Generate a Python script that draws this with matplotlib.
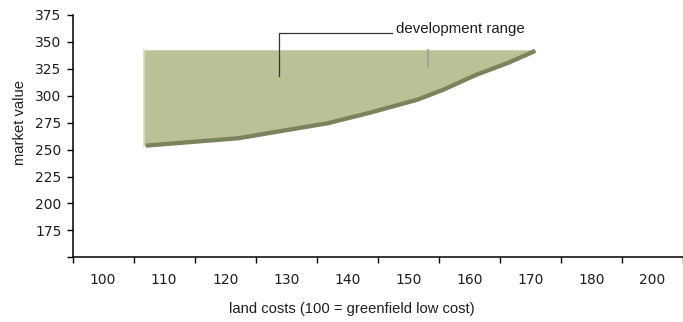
import matplotlib.pyplot as plt

plt.rcParams['font.family'] = ['Liberation Sans', 'DejaVu Sans']

# categories on the x axis (label text only, evenly spaced)
cost_labels = ["100", "110", "120", "130", "140", "150", "160", "170", "180", "200"]
value_ticks = [150, 175, 200, 225, 250, 275, 300, 325, 350, 375]

# lower edge of the development range, x in category units
land_pos = [0.70, 2.22, 3.68, 4.38, 5.14, 5.57, 6.11, 6.65, 7.08]
market_value = [253.7, 260.6, 274.5, 284.4, 296.2, 305.5, 319.4, 330.9, 341.7]
range_top = 342.7
range_left = 0.67

# small grey mark inside the area
mark_pos = 5.32
mark_bottom = 327.0

fill_col = "#BBC196"
line_col = "#7A845C"
txt_col = "#1e1e1e"
tick_font = ['DejaVu Sans']

fig = plt.figure(figsize=(6.83, 3.22), dpi=100)
ax = fig.add_axes([72.5 / 683, 1 - 257.3 / 322, 1 - 72.5 / 683, 242.3 / 322])

xs = [range_left] + land_pos
ys = [market_value[0]] + market_value
ax.fill_between(xs, ys, range_top, color=fill_col, lw=0, zorder=1)
ax.plot([range_left, range_left], [market_value[0], range_top], color="#d3d7c0", lw=1.2, zorder=2)
ax.plot(land_pos, market_value, color=line_col, lw=3.1, solid_capstyle="butt", zorder=3)
ax.plot([mark_pos, mark_pos], [mark_bottom, range_top], color="#a3a596", lw=1.5, zorder=2)

# leader line and label
ax.plot([2.88, 2.88, 4.73], [317.9, 358.2, 358.2], color="#333333", lw=0.9, zorder=4)
ax.text(4.80, 358.2, "development range", fontsize=10.8, color=txt_col, va="baseline", ha="left")

ax.set_xlim(-0.5, 9.42)
ax.set_ylim(150, 375)

ax.set_xticks([i - 0.5 for i in range(len(cost_labels) + 1)])
ax.set_xticklabels([])
ax.set_xticks(range(len(cost_labels)), minor=True)
ax.set_xticklabels(cost_labels, minor=True, family=tick_font)
ax.tick_params(axis="x", which="major", length=4, width=1, direction="out", color="black")
ax.tick_params(axis="x", which="minor", length=0, pad=11, labelsize=10, labelcolor=txt_col)

ax.set_yticks(value_ticks)
ax.set_yticklabels([""] + [str(v) for v in value_ticks[1:]], family=tick_font)
ax.tick_params(axis="y", length=4, width=1, direction="out", pad=4, labelsize=10, labelcolor=txt_col)

for s in ["top", "right"]:
    ax.spines[s].set_visible(False)
for s in ["left", "bottom"]:
    ax.spines[s].set_linewidth(1.1)

ax.set_xlabel("land costs (100 = greenfield low cost)", fontsize=10.6, color=txt_col, va="center")
ax.xaxis.set_label_coords(0.458, -0.2146)
ax.set_ylabel("market value", fontsize=10.6, color=txt_col, va="center")
ax.yaxis.set_label_coords(-0.0856, 0.556)

fig.savefig("out.png", dpi=100)
